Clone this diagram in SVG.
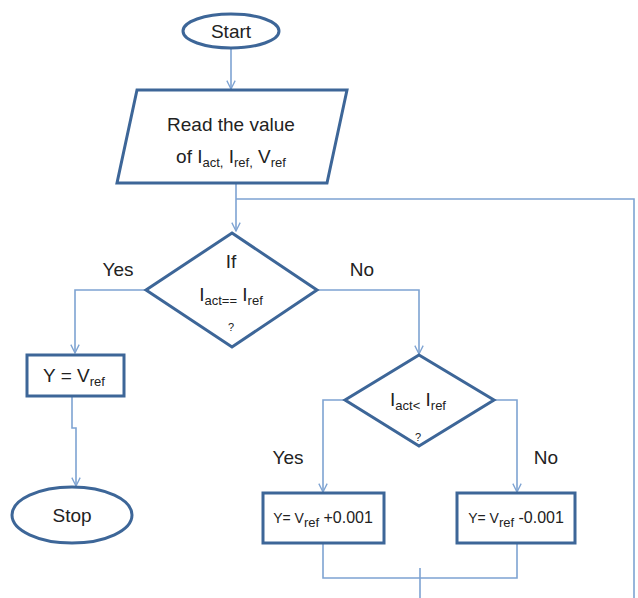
<svg xmlns="http://www.w3.org/2000/svg" width="638" height="598" viewBox="0 0 638 598">
<style>
.node{fill:#fff;stroke:#3d6698;stroke-width:3}
.conn{fill:none;stroke:#7ea3d2;stroke-width:1.6}
text{font-family:"Liberation Sans","Noto Sans",sans-serif;fill:#222;text-anchor:middle}
.t18{font-size:19px}
.t14{font-size:14px}
.sub{font-size:13px}
.q{font-size:11px}
</style>
<defs>
<marker id="arr" viewBox="0 0 12 12" refX="11" refY="6" markerWidth="10" markerHeight="10" markerUnits="userSpaceOnUse" orient="auto">
<path d="M1,1 L11,6 L1,11" fill="none" stroke="#7ea3d2" stroke-width="1.6"/>
</marker>
</defs>
<g id="connectors">
<path class="conn" d="M231,48 V89" marker-end="url(#arr)"/>
<path class="conn" d="M236,183 V231" marker-end="url(#arr)"/>
<path class="conn" d="M236,199 H634 V598"/>
<path class="conn" d="M146,290 H75 V353" marker-end="url(#arr)"/>
<path class="conn" d="M72,396 V428 H76 V486" marker-end="url(#arr)"/>
<path class="conn" d="M317,290 H419 V354" marker-end="url(#arr)"/>
<path class="conn" d="M345,400 H323 V492" marker-end="url(#arr)"/>
<path class="conn" d="M494,400 H517 V492" marker-end="url(#arr)"/>
<path class="conn" d="M323,543 V578 H517 V543"/>
<path class="conn" d="M420,568 V598"/>
</g>
<g id="start">
<ellipse class="node" cx="231" cy="31" rx="48" ry="17"/>
<text class="t18" x="231" y="38">Start</text>
</g>
<g id="read">
<polygon class="node" points="137,90 347,90 327,183 117,183"/>
<text class="t18" x="231" y="131">Read the value</text>
<text class="t18" x="231" y="163">of I<tspan class="sub" dy="4">act,</tspan><tspan dy="-4"> I</tspan><tspan class="sub" dy="4">ref,</tspan><tspan dy="-4"> V</tspan><tspan class="sub" dy="4">ref</tspan></text>
</g>
<g id="decision1">
<polygon class="node" points="232,233 317,290 232,347 146,290"/>
<text class="t18" x="231" y="268">If</text>
<text class="t18" x="231" y="301">I<tspan class="sub" dy="4">act==</tspan><tspan dy="-4"> I</tspan><tspan class="sub" dy="4">ref</tspan></text>
<text class="q" x="231" y="331">?</text>
</g>
<g id="yeq">
<rect class="node" x="27" y="355" width="97" height="41"/>
<text class="t18" x="74" y="382">Y = V<tspan class="sub" dy="4">ref</tspan></text>
</g>
<g id="stop">
<ellipse class="node" cx="72" cy="515" rx="60" ry="28"/>
<text class="t18" x="72" y="522">Stop</text>
</g>
<g id="decision2">
<polygon class="node" points="419,355 494,400 419,446 345,400"/>
<text class="t18" x="418" y="406">I<tspan class="sub" dy="4">act&lt;</tspan><tspan dy="-4"> I</tspan><tspan class="sub" dy="4">ref</tspan></text>
<text class="q" x="418" y="441">?</text>
</g>
<g id="yplus">
<rect class="node" x="263" y="493" width="121" height="50"/>
<text class="t14" x="323" y="523">Y= V<tspan class="sub" dy="4" font-size="11">ref</tspan><tspan dy="-4" font-size="16"> +0.001</tspan></text>
</g>
<g id="yminus">
<rect class="node" x="457" y="493" width="118" height="50"/>
<text class="t14" x="516" y="523">Y= V<tspan class="sub" dy="4" font-size="11">ref</tspan><tspan dy="-4" font-size="16"> -0.001</tspan></text>
</g>
<g id="labels">
<text class="t18" x="118" y="276">Yes</text>
<text class="t18" x="362" y="276">No</text>
<text class="t18" x="288" y="464">Yes</text>
<text class="t18" x="546" y="464">No</text>
</g>
</svg>
